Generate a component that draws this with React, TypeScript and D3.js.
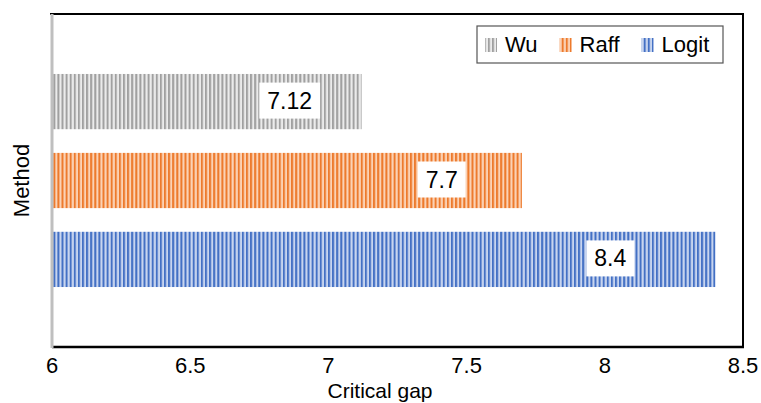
import React from "react";
import * as d3 from "d3";

const series = ["Wu", "Raff", "Logit"];
const values = [7.12, 7.7, 8.4];
const labelAnchor = [6.86, 7.41, 8.02];
const darkColors = ["#a0a0a0", "#ed7a2c", "#4370c4"];
const lightColors = ["#ebebeb", "#fbd2b5", "#c8d5ef"];
const xTicks = [6, 6.5, 7, 7.5, 8, 8.5];
const xTitle = "Critical gap";
const yTitle = "Method";

const W = 761;
const H = 403;
const M = { left: 52, right: 18, top: 14, bottom: 56 };
const FONT = "'Liberation Sans', Arial, sans-serif";

function measure(text: string, size: number) {
  const c = document.createElement("canvas").getContext("2d");
  if (!c) return text.length * size * 0.55;
  c.font = `${size}px 'Liberation Sans', Arial, sans-serif`;
  return c.measureText(text).width;
}

export default function App() {
  const x = d3.scaleLinear().domain([6, 8.5]).range([M.left, W - M.right]);
  const y = d3
    .scaleBand<string>()
    .domain(series)
    .range([M.top, H - M.bottom])
    .paddingInner(0.3)
    .paddingOuter(0.76);

  const legendFont = 22;
  let cursor = 485;
  const legendItems = series.map((s, i) => {
    const item = { s, i, x: cursor };
    cursor += 12 + 8 + measure(s, legendFont) + 22;
    return item;
  });

  return (
    <svg
      width={W}
      height={H}
      style={{ position: "absolute", left: 0, top: 0, background: "#fff" }}
      fontFamily={FONT}
    >
      <defs>
        {series.map((s, i) => (
          <pattern
            key={s}
            id={`pat${i}`}
            patternUnits="userSpaceOnUse"
            width={4.1}
            height={10}
          >
            <rect width={4.1} height={10} fill={lightColors[i]} />
            <rect width={2} height={10} fill={darkColors[i]} />
          </pattern>
        ))}
      </defs>

      {/* bars */}
      {series.map((s, i) => (
        <rect
          key={s}
          x={x(6)}
          y={y(s)}
          width={x(values[i]) - x(6)}
          height={y.bandwidth()}
          fill={`url(#pat${i})`}
        />
      ))}

      {/* data labels */}
      {series.map((s, i) => {
        const t = String(values[i]);
        const tw = measure(t, 23);
        const cx = x(labelAnchor[i]);
        const cy = (y(s) as number) + y.bandwidth() / 2 - 1;
        return (
          <g key={s}>
            <rect x={cx - tw / 2 - 8} y={cy - 18} width={tw + 16} height={36} fill="#fff" />
            <text x={cx} y={cy + 8} textAnchor="middle" fontSize={23} fill="#000">
              {t}
            </text>
          </g>
        );
      })}

      {/* frame */}
      <line x1={M.left - 2} x2={W - M.right + 1} y1={M.top} y2={M.top} stroke="#000" strokeWidth={2} />
      <line x1={W - M.right} x2={W - M.right} y1={M.top} y2={H - M.bottom} stroke="#000" strokeWidth={2} />
      <line x1={M.left} x2={W - M.right + 1} y1={H - M.bottom} y2={H - M.bottom} stroke="#000" strokeWidth={2.5} />
      <line x1={M.left} x2={M.left} y1={M.top} y2={H - M.bottom + 1} stroke="#bfbfbf" strokeWidth={3} />

      {/* x ticks */}
      {xTicks.map((t) => (
        <text key={t} x={x(t)} y={373} textAnchor="middle" fontSize={22} fill="#000">
          {String(t)}
        </text>
      ))}
      <text x={380} y={398} textAnchor="middle" fontSize={21} fill="#000">
        {xTitle}
      </text>
      <text
        transform={`translate(29, ${(M.top + H - M.bottom) / 2}) rotate(-90)`}
        textAnchor="middle"
        fontSize={22}
        fill="#000"
      >
        {yTitle}
      </text>

      {/* legend */}
      <rect x={477} y={26} width={246} height={37} fill="#fff" stroke="#555" strokeWidth={1.2} />
      {legendItems.map(({ s, i, x: lx }) => (
        <g key={s}>
          <rect x={lx} y={38} width={12} height={14} fill={`url(#pat${i})`} />
          <text x={lx + 20} y={52} fontSize={legendFont} fill="#000">
            {s}
          </text>
        </g>
      ))}
    </svg>
  );
}
